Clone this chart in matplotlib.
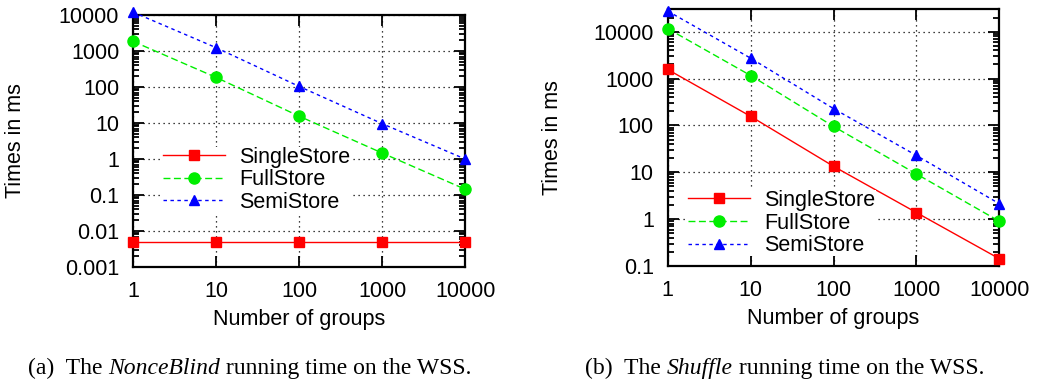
import matplotlib
matplotlib.use("Agg")
import matplotlib.pyplot as plt
from matplotlib.text import Annotation
from matplotlib.ticker import LogLocator, NullLocator, FixedLocator, FixedFormatter

plt.rcParams['font.family'] = ['Liberation Sans', 'DejaVu Sans']

groups = [1, 10, 100, 1000, 10000]
group_labels = ['1', '10', '100', '1000', '10000']

# (a) NonceBlind
nb_single = [0.005, 0.005, 0.005, 0.005, 0.005]
nb_full = [1850, 185, 15.5, 1.47, 0.145]
nb_semi = [12000, 1240, 104, 9.6, 1.0]

# (b) Shuffle
sh_single = [1560, 156, 13.4, 1.38, 0.143]
sh_full = [11600, 1160, 95, 9.2, 0.9]
sh_semi = [27500, 2720, 228, 22.8, 2.13]

labels = ['SingleStore', 'FullStore', 'SemiStore']
FS = 15.5
serif = ['Liberation Serif', 'DejaVu Serif']


def draw_panel(ax, single, full, semi, ylim, yticks, legend_xy, ylabel_x):
    kw = dict(lw=1.0, clip_on=False, zorder=3)
    ax.plot(groups, single, color='#ff0000', ls='-', marker='s', ms=7.5,
            label=labels[0], **kw)
    ax.plot(groups, full, color='#00ee00', ls=(0, (5, 2.5)), marker='o', ms=8,
            label=labels[1], **kw)
    ax.plot(groups, semi, color='#0000ff', ls=(0, (2.5, 2.5)), marker='^', ms=7,
            label=labels[2], **kw)

    ax.set_xscale('log')
    ax.set_yscale('log')
    ax.set_xlim(1, 10000)
    ax.set_ylim(*ylim)

    ax.xaxis.set_major_locator(FixedLocator(groups))
    ax.xaxis.set_major_formatter(FixedFormatter(group_labels))
    ax.xaxis.set_minor_locator(NullLocator())
    ax.yaxis.set_major_locator(FixedLocator([float(t) for t in yticks]))
    ax.yaxis.set_major_formatter(FixedFormatter(yticks))
    ax.yaxis.set_minor_locator(LogLocator(base=10, subs=range(2, 10), numticks=20))

    # gnuplot look: inward ticks on all four sides
    ax.tick_params(which='both', direction='in', top=True, right=True,
                   labelsize=FS, width=1.3, color='black', pad=10)
    ax.tick_params(which='major', length=8)
    ax.tick_params(which='minor', length=4)
    for s in ax.spines.values():
        s.set_linewidth(1.6)

    ax.grid(True, which='major', color='black', ls=(0, (1, 3)), lw=0.9)
    ax.set_axisbelow(True)

    ax.set_xlabel('Number of groups', fontsize=FS)
    ax.set_ylabel('Times in ms', fontsize=FS)
    ax.xaxis.set_label_coords(0.5, -0.165)
    ax.yaxis.label.set_va('center')
    ax.yaxis.set_label_coords(ylabel_x, 0.5)

    leg = ax.legend(loc='upper left', bbox_to_anchor=legend_xy, fontsize=FS,
                    frameon=True, fancybox=False, borderpad=0.0, borderaxespad=0.0,
                    handlelength=2.9, handletextpad=0.65, labelspacing=0.08)
    leg.get_frame().set_edgecolor('none')
    leg.get_frame().set_facecolor('white')
    leg.get_frame().set_alpha(1.0)


def chain_caption(fig, x, y, parts):
    # pieces of the caption placed one after another (some of them italic)
    prev = fig.text(x, y, parts[0][0], fontstyle=parts[0][1], fontsize=17,
                    family=serif, va='baseline', ha='left')
    for txt, style in parts[1:]:
        prev = fig.add_artist(Annotation(
            txt, xy=(1, 0), xycoords=prev, fontstyle=style, fontsize=17,
            family=serif, va='bottom', ha='left'))


fig = plt.figure(figsize=(10.37, 3.81), dpi=100)
ax1 = fig.add_axes([0.1283, 0.2992, 0.3202, 0.6614])
ax2 = fig.add_axes([0.6439, 0.3018, 0.3198, 0.6738])

draw_panel(ax1, nb_single, nb_full, nb_semi, (0.001, 10000),
           ['0.001', '0.01', '0.1', '1', '10', '100', '1000', '10000'],
           (0.09, 0.478), -0.355)
draw_panel(ax2, sh_single, sh_full, sh_semi, (0.1, 30000),
           ['0.1', '1', '10', '100', '1000', '10000'],
           (0.061, 0.296), -0.346)

chain_caption(fig, 0.027, 0.018, [('(a)  The ', 'normal'), ('NonceBlind', 'italic'),
                                  (' running time on the WSS.', 'normal')])
chain_caption(fig, 0.564, 0.018, [('(b)  The ', 'normal'), ('Shuffle', 'italic'),
                                  (' running time on the WSS.', 'normal')])

fig.savefig('out.png', dpi=100)
